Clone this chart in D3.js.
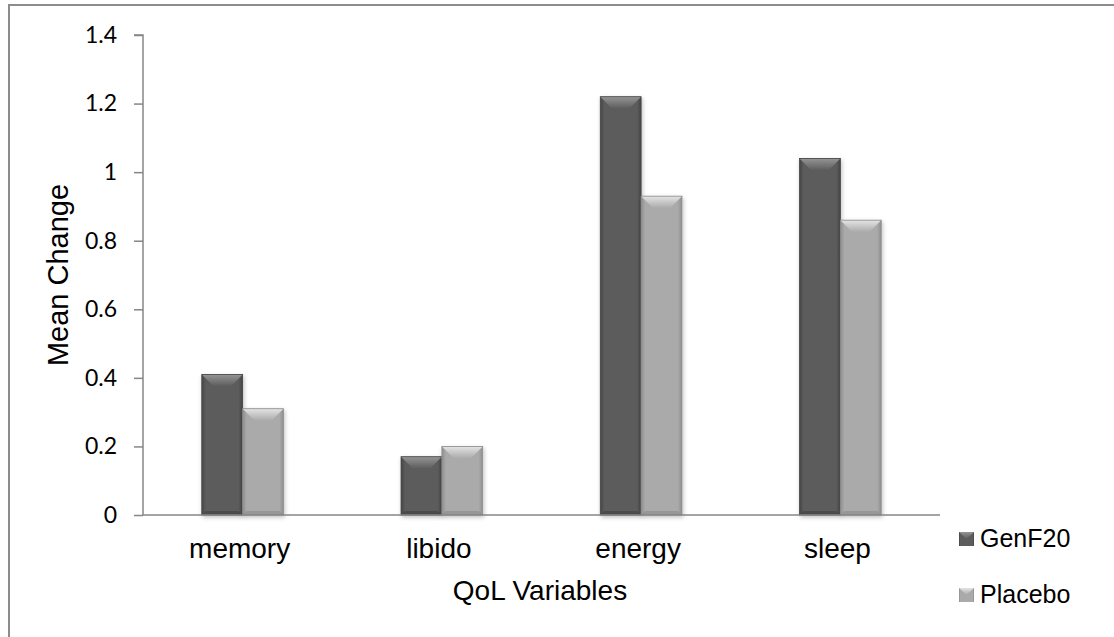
<!DOCTYPE html>
<html lang="en">
<head>
<meta charset="UTF-8" />
<title>QoL Mean Change</title>
<script src="https://d3js.org/d3.v7.min.js"></script>
<style>
  html, body { margin: 0; padding: 0; background: #fff; }
  svg { display: block; }
  .tick text { font-family: Lato, "Open Sans", sans-serif; font-size: 23px; fill: #000; }
  .axis path, .axis line { stroke: #868686; stroke-width: 1.5; }
</style>
</head>
<body>
<div id="chart"></div>
<script>
const categories = ["memory", "libido", "energy", "sleep"];
const seriesNames = ["GenF20", "Placebo"];
const genf20 = [0.41, 0.17, 1.22, 1.04];
const placebo = [0.31, 0.20, 0.93, 0.86];
const yTicks = [0, 0.2, 0.4, 0.6, 0.8, 1, 1.2, 1.4];

(function () {
const W = 1114, H = 637;
const plotL = 143, plotR = 940, plotT = 35, plotB = 515;
const font = "Liberation Sans, Arial, sans-serif";

const svg = d3.select("#chart").append("svg").attr("width", W).attr("height", H);
const defs = svg.append("defs");

// outer frame
svg.append("rect").attr("x", 9).attr("y", 5).attr("width", 1110).attr("height", 640)
  .attr("fill", "none").attr("stroke", "#8c8c8c").attr("stroke-width", 2);

const x0 = d3.scaleBand().domain(categories).range([plotL, plotR]).paddingInner(0.59).paddingOuter(0.295);
const x1 = d3.scaleBand().domain(seriesNames).range([0, x0.bandwidth()]);
const y = d3.scaleLinear().domain([0, 1.4]).range([plotB, plotT]);

// [edge, body, bevel highlight]
const colors = { GenF20: ["#454545", "#5c5c5c", "#959595"], Placebo: ["#8e8e8e", "#aaaaaa", "#e4e4e4"] };

seriesNames.forEach((s, i) => {
  const c = colors[s];
  const g = defs.append("linearGradient").attr("id", "body" + i).attr("x1", 0).attr("x2", 1).attr("y1", 0).attr("y2", 0);
  g.append("stop").attr("offset", "0%").attr("stop-color", c[0]);
  g.append("stop").attr("offset", "10%").attr("stop-color", c[1]);
  g.append("stop").attr("offset", "90%").attr("stop-color", c[1]);
  g.append("stop").attr("offset", "100%").attr("stop-color", c[0]);
  const t = defs.append("linearGradient").attr("id", "top" + i).attr("x1", 0).attr("x2", 0).attr("y1", 0).attr("y2", 1);
  t.append("stop").attr("offset", "0%").attr("stop-color", c[2]);
  t.append("stop").attr("offset", "100%").attr("stop-color", c[1]);
});

const shadow = defs.append("filter").attr("id", "shadow").attr("x", "-20%").attr("y", "-5%").attr("width", "140%").attr("height", "115%");
shadow.append("feDropShadow").attr("dx", 1).attr("dy", 2).attr("stdDeviation", 2).attr("flood-color", "#000").attr("flood-opacity", 0.25);

// y axis
const yAxis = svg.append("g").attr("class", "axis").attr("transform", `translate(${plotL},0)`)
  .call(d3.axisLeft(y).tickValues(yTicks).tickSize(9).tickPadding(17).tickFormat(d => d3.format("")(+d.toFixed(1))));
yAxis.select(".domain").attr("d", `M-9,${plotT}H0V${plotB}`);

const rows = categories.map((c, i) => ({ cat: c, vals: [genf20[i], placebo[i]] }));

const groups = svg.selectAll(".grp").data(rows).join("g").attr("class", "grp")
  .attr("transform", d => `translate(${x0(d.cat)},0)`);

groups.each(function (d) {
  const g = d3.select(this);
  d.vals.forEach((v, i) => {
    const c = colors[seriesNames[i]];
    const bx = x1(seriesNames[i]), bw = x1.bandwidth();
    const by = y(v), bh = y(0) - y(v);
    const b = Math.min(12, bh / 2);
    const bar = g.append("g").attr("filter", "url(#shadow)");
    bar.append("rect").attr("x", bx).attr("y", by).attr("width", bw).attr("height", bh).attr("fill", `url(#body${i})`);
    // top bevel
    bar.append("polygon")
      .attr("points", `${bx},${by} ${bx + bw},${by} ${bx + bw - b},${by + b} ${bx + b},${by + b}`)
      .attr("fill", `url(#top${i})`);
    // bottom bevel
    bar.append("polygon")
      .attr("points", `${bx},${by + bh} ${bx + bw},${by + bh} ${bx + bw - 4},${by + bh - 4} ${bx + 4},${by + bh - 4}`)
      .attr("fill", c[0]).attr("opacity", 0.7);
    bar.append("rect").attr("x", bx).attr("y", by).attr("width", bw).attr("height", bh)
      .attr("fill", "none").attr("stroke", c[0]).attr("stroke-width", 0.8);
  });
});

svg.append("line").attr("x1", plotL).attr("x2", plotR).attr("y1", plotB).attr("y2", plotB)
  .attr("stroke", "#868686").attr("stroke-width", 1.5);

// category labels
svg.selectAll(".cat").data(categories).join("text").attr("class", "cat")
  .attr("x", d => x0(d) + x0.bandwidth() / 2 - 3).attr("y", 558)
  .attr("text-anchor", "middle").attr("font-family", font).attr("font-size", 28)
  .text(d => d);

svg.append("text").attr("x", 540).attr("y", 600).attr("text-anchor", "middle")
  .attr("font-family", font).attr("font-size", 28).text("QoL Variables");

svg.append("text").attr("transform", "translate(68,275) rotate(-90)").attr("text-anchor", "middle")
  .attr("font-family", font).attr("font-size", 29).text("Mean Change");

// legend
const leg = svg.selectAll(".leg").data(seriesNames).join("g").attr("class", "leg")
  .attr("transform", (d, i) => `translate(959,${532 + i * 56})`);
leg.append("rect").attr("width", 15).attr("height", 14).attr("fill", (d, i) => `url(#body${i})`);
leg.append("polygon").attr("points", "0,0 15,0 7.5,7").attr("fill", (d, i) => `url(#top${i})`);
leg.append("text").attr("x", 21).attr("y", 15).attr("font-family", font)
  .attr("font-size", 25).text(d => d);
})();
</script>
</body>
</html>
